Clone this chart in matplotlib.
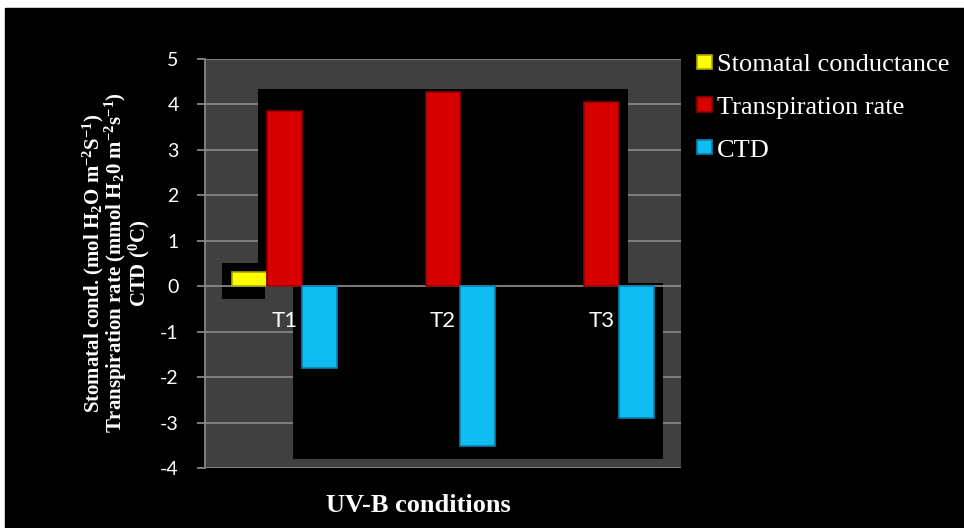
import numpy as np
import matplotlib.pyplot as plt
from matplotlib.patches import Rectangle, Patch

# data
treatments = ['T1', 'T2', 'T3']
stomatal = [0.32, 0.0, 0.0]
transpiration = [3.86, 4.27, 4.06]
ctd = [-1.80, -3.52, -2.90]
series_names = ['Stomatal conductance', 'Transpiration rate', 'CTD']

face_cols = ['#FFFF00', '#D60000', '#10BDF2']
edge_cols = ['#A8A800', '#8E0000', '#0A7FAE']

plt.rcParams['axes.unicode_minus'] = False
plt.rcParams['mathtext.fontset'] = 'custom'
plt.rcParams['mathtext.rm'] = 'Liberation Serif:bold'
plt.rcParams['mathtext.it'] = 'Liberation Serif:bold:italic'
plt.rcParams['mathtext.bf'] = 'Liberation Serif:bold'

W, H = 964, 528
fig = plt.figure(figsize=(W / 100, H / 100), dpi=100)
fig.patch.set_facecolor('white')
fig.add_artist(Rectangle((5 / W, 0), 1, 520 / H, transform=fig.transFigure,
                         color='black', zorder=-10))

ax = fig.add_axes([205 / W, 60 / H, 476 / W, 409 / H])
ax.set_facecolor('#404040')

x = np.arange(len(treatments))
bw = 0.22
grid_col = '#858585'

# dark patches sitting behind the bars in the original picture
for (x0, y0, w, h) in [(-0.167, 0.07, 2.33, 4.26),
                       (0.054, -3.81, 2.33, 3.88),
                       (-0.393, -0.29, 0.27, 0.80)]:
    ax.add_patch(Rectangle((x0, y0), w, h, color='black', zorder=0.7, lw=0))

for i, vals in enumerate([stomatal, transpiration, ctd]):
    lws = [1.2 if v != 0 else 0 for v in vals]
    ax.bar(x + (i - 1) * bw, vals, width=bw, color=face_cols[i],
           edgecolor=edge_cols[i], linewidth=lws, zorder=2)

ax.set_xlim(-0.5, 2.5)
ax.set_ylim(-4, 5)
ax.set_yticks(range(-4, 6))
ax.set_axisbelow(True)
ax.yaxis.grid(True, color=grid_col, linewidth=1.3)
ax.axhline(0, color=grid_col, linewidth=1.3, zorder=0.9)

for s in ['top', 'right', 'bottom']:
    ax.spines[s].set_visible(False)
ax.spines['left'].set_color(grid_col)
ax.spines['left'].set_linewidth(1.3)

ax.tick_params(axis='y', colors=grid_col, length=6, width=1.3, pad=13,
               labelcolor='white', labelsize=14)
for lab in ax.get_yticklabels():
    lab.set_family('Lato')

ax.set_xticks(x)
ax.set_xticklabels([])
for i, t in enumerate(treatments):
    ax.annotate(t, (x[i], 0), xytext=(0, -25), textcoords='offset pixels',
                ha='center', va='top', color='white', fontsize=16,
                family='Lato', zorder=3)
ax.tick_params(axis='x', length=0)

ylab = ("Stomatal cond. (mol H$_2$O m$^{-2}$S$^{-1}$)\n"
        "Transpiration rate (mmol H$_2$0 m$^{-2}$s$^{-1}$)\n"
        "CTD ($^0$C)")
fig.text(116 / W, 1 - 263 / H, ylab, rotation=90, ha='center', va='center',
         multialignment='center', color='white', fontsize=15,
         family='Liberation Serif', fontweight='bold', linespacing=0.86)

fig.text(418 / W, 1 - 505 / H, 'UV-B conditions', ha='center', va='center',
         color='white', fontsize=19, family='Liberation Serif', fontweight='bold')

handles = [Patch(facecolor=face_cols[i], edgecolor=edge_cols[i], linewidth=1.2)
           for i in range(3)]
leg = fig.legend(handles, series_names, loc='upper left',
                 bbox_to_anchor=(697 / W, 1 - 54 / H), frameon=False,
                 prop={'family': 'Liberation Serif', 'size': 19},
                 labelcolor='white', handlelength=0.55, handleheight=0.45,
                 handletextpad=0.2, labelspacing=0.79, borderpad=0,
                 borderaxespad=0)

fig.savefig('out.png', dpi=100, facecolor=fig.get_facecolor())
